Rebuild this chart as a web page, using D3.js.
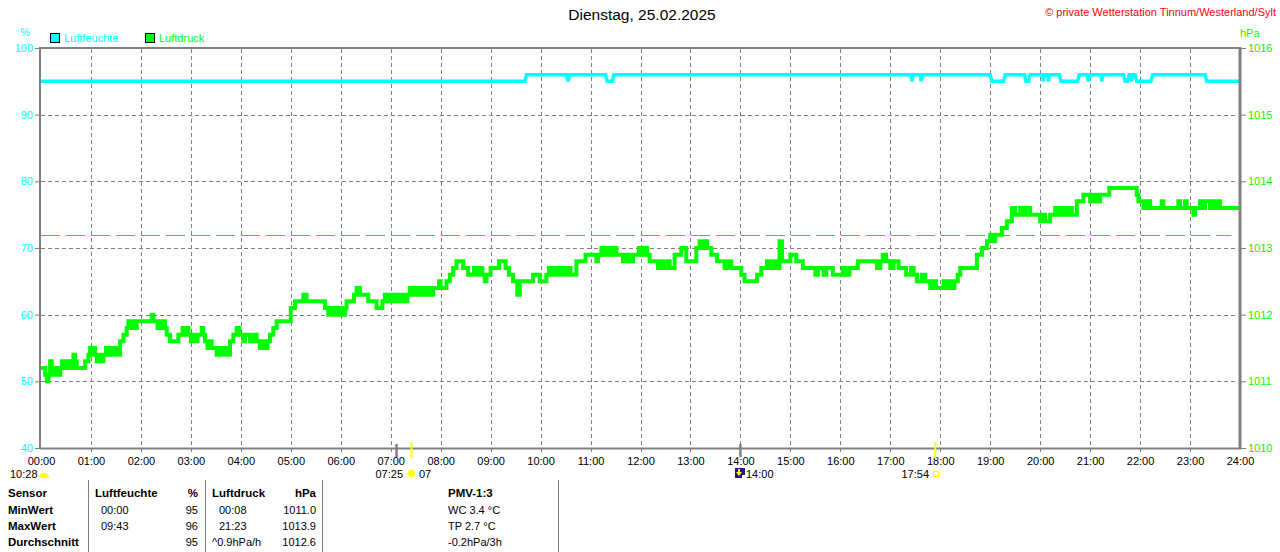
<!DOCTYPE html>
<html><head><meta charset="utf-8">
<script src="https://cdn.jsdelivr.net/npm/d3@7/dist/d3.min.js"></script>
<style>
html,body{margin:0;padding:0;background:#fff;}
svg{display:block;font-family:"Liberation Sans",Arial,sans-serif;}
</style></head>
<body><svg id="c" width="1280" height="552"></svg>
<script>
// ---- data ----
const titleText = "Dienstag, 25.02.2025";
const copyrightText = "© private Wetterstation Tinnum/Westerland/Sylt";
const hourTicks = d3.range(0, 25).map(h => h * 60);
const hourLabels = d3.range(0, 25).map(h => String(h).padStart(2, "0") + ":00");
const humTicks = [40, 50, 60, 70, 80, 90, 100];
const presTicks = [1010, 1011, 1012, 1013, 1014, 1015, 1016];
const refPressure = 1013.2;
// [minute of day, % ]
const humidityData = [[0,95],[581,95],[583,96],[631,96],[633,95],[635,96],[678,96],[680,95],[686,95],[688,96],
[1045,96],[1046,95],[1047,96],[1056,96],[1057,95],[1058,96],
[1140,96],[1142,95],[1156,95],[1158,96],[1181,96],[1183,95],[1186,95],[1188,96],
[1203,96],[1204,95],[1205,96],[1209,96],[1210,95],[1211,96],[1223,96],[1225,95],[1245,95],[1247,96],
[1256,96],[1258,95],[1260,96],[1273,96],[1274,95],[1275,96],[1300,96],[1302,95],[1305,95],[1307,96],
[1309,96],[1310,95],[1311,96],[1314,96],[1316,95],[1333,95],[1335,96],[1398,96],[1400,95],[1440,95]];
// [minute of day, hPa]
const pressureData = [[0,1011.2],[5,1011.1],[7,1011.0],[9,1011.1],[11,1011.3],[13,1011.2],[15,1011.1],[18,1011.2],[20,1011.1],
[23,1011.2],[25,1011.3],[27,1011.2],[30,1011.3],[32,1011.2],[35,1011.3],[37,1011.2],[39,1011.4],[41,1011.3],[43,1011.2],
[53,1011.3],[57,1011.4],[59,1011.5],[61,1011.4],[63,1011.5],[65,1011.4],[67,1011.3],[70,1011.4],[72,1011.3],[75,1011.4],
[78,1011.5],[80,1011.4],[84,1011.5],[86,1011.4],[89,1011.5],[91,1011.4],[95,1011.6],[99,1011.7],[103,1011.8],[105,1011.9],
[108,1011.8],[110,1011.9],[113,1011.8],[115,1011.9],[133,1012.0],[135,1011.9],[140,1011.8],[142,1011.9],[145,1011.8],
[147,1011.9],[149,1011.8],[151,1011.7],[155,1011.6],[165,1011.7],[170,1011.8],[173,1011.7],[175,1011.8],[177,1011.7],
[180,1011.6],[182,1011.7],[186,1011.6],[188,1011.7],[193,1011.8],[195,1011.7],[197,1011.6],[200,1011.5],[203,1011.6],
[205,1011.5],[211,1011.4],[214,1011.5],[217,1011.4],[221,1011.5],[224,1011.4],[227,1011.6],[231,1011.7],[235,1011.8],
[238,1011.7],[243,1011.6],[245,1011.7],[251,1011.6],[256,1011.7],[259,1011.6],[263,1011.5],[266,1011.6],[268,1011.5],
[272,1011.6],[275,1011.7],[279,1011.8],[283,1011.9],[300,1012.1],[305,1012.2],[315,1012.3],[319,1012.2],[341,1012.1],
[345,1012.0],[348,1012.1],[350,1012.0],[353,1012.1],[356,1012.0],[359,1012.1],[361,1012.0],[365,1012.1],[367,1012.2],
[376,1012.3],[379,1012.4],[383,1012.3],[393,1012.2],[401,1012.2],[403,1012.1],[410,1012.2],[413,1012.3],[416,1012.2],
[420,1012.3],[423,1012.2],[427,1012.3],[430,1012.2],[434,1012.3],[437,1012.2],[440,1012.3],[443,1012.4],[446,1012.3],
[450,1012.4],[453,1012.3],[457,1012.4],[460,1012.3],[464,1012.4],[467,1012.3],[471,1012.4],[478,1012.5],[480,1012.4],
[487,1012.5],[491,1012.6],[495,1012.7],[499,1012.8],[507,1012.7],[513,1012.6],[517,1012.6],[520,1012.7],[523,1012.6],
[527,1012.7],[530,1012.6],[533,1012.5],[535,1012.6],[540,1012.7],[550,1012.8],[558,1012.7],[562,1012.6],[567,1012.5],
[572,1012.3],[575,1012.5],[591,1012.6],[599,1012.5],[607,1012.6],[610,1012.7],[613,1012.6],[617,1012.7],[620,1012.6],
[624,1012.7],[627,1012.6],[632,1012.7],[636,1012.6],[643,1012.8],[654,1012.9],[667,1012.8],[669,1012.9],[673,1013.0],
[676,1012.9],[680,1013.0],[684,1012.9],[688,1013.0],[691,1012.9],[699,1012.8],[703,1012.9],[706,1012.8],[711,1012.9],
[718,1013.0],[721,1012.9],[725,1013.0],[728,1012.9],[731,1012.8],[741,1012.7],[744,1012.8],[747,1012.7],[752,1012.8],
[755,1012.7],[761,1012.9],[769,1013.0],[775,1012.8],[787,1013.0],[791,1013.1],[794,1013.0],[797,1013.1],[800,1013.0],
[805,1012.9],[812,1012.8],[821,1012.7],[826,1012.8],[829,1012.7],[841,1012.6],[845,1012.5],[860,1012.6],[865,1012.7],
[872,1012.8],[875,1012.7],[880,1012.8],[884,1012.7],[887,1013.1],[890,1012.8],[900,1012.9],[907,1012.8],[915,1012.7],
[930,1012.6],[933,1012.7],[940,1012.6],[943,1012.7],[951,1012.6],[963,1012.7],[966,1012.6],[971,1012.7],[981,1012.8],
[1004,1012.7],[1008,1012.8],[1011,1012.9],[1015,1012.8],[1020,1012.7],[1024,1012.8],[1030,1012.7],[1039,1012.6],
[1045,1012.7],[1048,1012.6],[1052,1012.5],[1058,1012.6],[1062,1012.5],[1068,1012.4],[1072,1012.5],[1075,1012.4],
[1084,1012.5],[1087,1012.4],[1091,1012.5],[1094,1012.4],[1097,1012.5],[1101,1012.6],[1104,1012.7],[1124,1012.9],
[1130,1013.0],[1136,1013.1],[1140,1013.2],[1142,1013.1],[1146,1013.2],[1154,1013.3],[1160,1013.4],[1166,1013.6],
[1170,1013.5],[1176,1013.6],[1180,1013.5],[1183,1013.6],[1188,1013.5],[1200,1013.4],[1203,1013.5],[1206,1013.4],
[1212,1013.5],[1218,1013.6],[1222,1013.5],[1226,1013.6],[1230,1013.5],[1234,1013.6],[1238,1013.5],[1244,1013.7],
[1252,1013.8],[1260,1013.7],[1264,1013.8],[1268,1013.7],[1272,1013.8],[1283,1013.9],[1316,1013.8],[1318,1013.7],
[1324,1013.6],[1328,1013.7],[1332,1013.6],[1346,1013.7],[1348,1013.6],[1366,1013.7],[1368,1013.6],[1374,1013.7],
[1376,1013.6],[1384,1013.5],[1386,1013.6],[1392,1013.7],[1396,1013.6],[1398,1013.7],[1404,1013.6],[1406,1013.7],
[1410,1013.6],[1414,1013.7],[1416,1013.6],[1440,1013.6]];
// astro events (minute of day)
const yellowMarks = [445, 1074];   // 07:25 sunrise, 17:54 sunset
const greyMarks = [427, 840];
const tableHeader = ["Sensor", "Luftfeuchte", "%", "Luftdruck", "hPa", "PMV-1:3"];
const rowNames = ["MinWert", "MaxWert", "Durchschnitt"];
const humTimes = ["00:00", "09:43", ""];
const humValues = ["95", "96", "95"];
const presTimes = ["00:08", "21:23", "^0.9hPa/h"];
const presValues = ["1011.0", "1013.9", "1012.6"];
const pmvValues = ["WC 3.4 °C", "TP 2.7 °C", "-0.2hPa/3h"];

// ---- drawing ----
const svg = d3.select("#c");
const GREY = "#808080", CYAN = "#00ffff", GREEN = "#00ff00";
const FONT = "Liberation Sans, Arial, sans-serif";
const x = d3.scaleLinear().domain([0, 1440]).range([41, 1240]);
const yH = d3.scaleLinear().domain([40, 100]).range([448, 48]);
const yP = d3.scaleLinear().domain([1010, 1016]).range([448, 48]);

svg.append("rect").attr("width", 1280).attr("height", 552).attr("fill", "#fff");

// grid
const grid = svg.append("g").attr("stroke", GREY).attr("stroke-width", 1).attr("stroke-dasharray", "4,3");
grid.selectAll(".v").data(hourTicks.slice(1, -1)).join("line")
  .attr("x1", d => Math.round(x(d)) + 0.5).attr("x2", d => Math.round(x(d)) + 0.5)
  .attr("y1", 49).attr("y2", 454);
grid.selectAll(".h").data(humTicks.slice(1, -1)).join("line")
  .attr("x1", 41).attr("x2", 1238)
  .attr("y1", d => Math.round(yH(d)) + 0.5).attr("y2", d => Math.round(yH(d)) + 0.5);

// reference pressure line
svg.append("line").attr("x1", x(0)).attr("x2", x(1430))
  .attr("y1", Math.round(yP(refPressure)) + 0.5).attr("y2", Math.round(yP(refPressure)) + 0.5)
  .attr("stroke", "#22dd22").attr("stroke-width", 1).attr("stroke-dasharray", "19,6");

// series
svg.append("path").datum(humidityData)
  .attr("d", d3.line().x(d => x(d[0])).y(d => yH(d[1])))
  .attr("fill", "none").attr("stroke", CYAN).attr("stroke-width", 3.5);
svg.append("path").datum(pressureData)
  .attr("d", d3.line().curve(d3.curveStepAfter).x(d => x(d[0])).y(d => yP(d[1])))
  .attr("fill", "none").attr("stroke", GREEN).attr("stroke-width", 4).attr("stroke-linejoin", "miter");

// frame
svg.append("line").attr("x1", 40).attr("x2", 1241).attr("y1", 48).attr("y2", 48).attr("stroke", GREY).attr("stroke-width", 2);
svg.append("line").attr("x1", 40).attr("x2", 1241).attr("y1", 448.5).attr("y2", 448.5).attr("stroke", GREY).attr("stroke-width", 2);
svg.append("line").attr("x1", 40).attr("x2", 40).attr("y1", 47).attr("y2", 449).attr("stroke", GREY).attr("stroke-width", 2);
svg.append("line").attr("x1", 1240).attr("x2", 1240).attr("y1", 47).attr("y2", 449).attr("stroke", GREY).attr("stroke-width", 3);

// left axis
const la = svg.append("g").attr("transform", "translate(40,0)")
  .call(d3.axisLeft(yH).tickValues(humTicks).tickFormat(d3.format("d")).tickSize(5).tickPadding(2));
la.select(".domain").remove();
la.selectAll("line").attr("stroke", GREY);
la.selectAll("text").attr("fill", CYAN).attr("font-size", 11).attr("font-family", FONT);
// right axis
const ra = svg.append("g").attr("transform", "translate(1241,0)")
  .call(d3.axisRight(yP).tickValues(presTicks).tickFormat(d3.format("d")).tickSize(5).tickPadding(2));
ra.select(".domain").remove();
ra.selectAll("line").attr("stroke", GREY);
ra.selectAll("text").attr("fill", GREEN).attr("font-size", 11).attr("font-family", FONT);
// bottom axis labels
const ba = svg.append("g").attr("transform", "translate(0,449)")
  .call(d3.axisBottom(x).tickValues(hourTicks).tickFormat((d, i) => hourLabels[i]).tickSize(0).tickPadding(8));
ba.select(".domain").remove();
ba.selectAll("text").attr("fill", "#000").attr("font-size", 11).attr("font-family", FONT);

// astro marks
svg.selectAll(".gm").data(greyMarks).join("line")
  .attr("x1", d => x(d)).attr("x2", d => x(d)).attr("y1", 444).attr("y2", 457)
  .attr("stroke", GREY).attr("stroke-width", 2.5);
svg.selectAll(".ym").data(yellowMarks).join("line")
  .attr("x1", d => x(d)).attr("x2", d => x(d)).attr("y1", 442).attr("y2", 458)
  .attr("stroke", "#ffff00").attr("stroke-width", 2);

const small = (t, xx, yy, anchor, col, bold, size) => svg.append("text").text(t)
  .attr("x", xx).attr("y", yy).attr("text-anchor", anchor || "start")
  .attr("fill", col || "#000").attr("font-size", size || 11).attr("font-weight", bold ? "bold" : "normal");

// astro row
small("10:28", 10, 478);
svg.append("path").attr("d", "M39,478 A5,5 0 0 1 49,478 Z").attr("fill", "#ffff00");
small("07:25", 403, 478, "end");
const sun = svg.append("g").attr("transform", `translate(${x(445)},473.5)`);
sun.selectAll("line").data(d3.range(8)).join("line")
  .attr("x1", d => 3.5 * Math.cos(d * Math.PI / 4)).attr("y1", d => 3.5 * Math.sin(d * Math.PI / 4))
  .attr("x2", d => 5.5 * Math.cos(d * Math.PI / 4)).attr("y2", d => 5.5 * Math.sin(d * Math.PI / 4))
  .attr("stroke", "#ffff66").attr("stroke-width", 1);
sun.append("circle").attr("r", 3.5).attr("fill", "#ffff00");
small("07", 419, 478);
svg.append("rect").attr("x", 735).attr("y", 468).attr("width", 10).attr("height", 10).attr("fill", "#1c1c80");
svg.append("path").attr("d", "M738,469 L740,469 L740,472 L742,472 L739,476 L736,472 L738,472 Z").attr("fill", "#ffff00");
svg.append("rect").attr("x", 742).attr("y", 475).attr("width", 3).attr("height", 3).attr("fill", "#ffffff");
small("14:00", 746, 478);
small("17:54", 929, 478, "end");
svg.append("rect").attr("x", 933.5).attr("y", 471.5).attr("width", 5).attr("height", 5).attr("fill", "none").attr("stroke", "#ffff00");

// titles & legend
small(titleText, 642, 20, "middle", "#000", false, 15.5);
small(copyrightText, 1276, 16, "end", "#ff0000", false, 11);
small("%", 30, 36, "end", CYAN, false, 11);
small("hPa", 1240, 37, "start", GREEN, false, 11);
svg.append("rect").attr("x", 50.5).attr("y", 33.5).attr("width", 9).attr("height", 9).attr("fill", CYAN).attr("stroke", "#000");
small("Luftfeuchte", 64, 42, "start", CYAN);
svg.append("rect").attr("x", 145.5).attr("y", 33.5).attr("width", 9).attr("height", 9).attr("fill", GREEN).attr("stroke", "#000");
small("Luftdruck", 159, 42, "start", GREEN);

// table
[88.5, 205.5, 322.5, 558.5].forEach(xx => svg.append("line").attr("x1", xx).attr("x2", xx).attr("y1", 480).attr("y2", 552).attr("stroke", GREY));
const rowY = [497, 514, 530, 546];
small(tableHeader[0], 8, rowY[0], "start", "#000", true, 11.5);
small(tableHeader[1], 95, rowY[0], "start", "#000", true, 11.5);
small(tableHeader[2], 198, rowY[0], "end", "#000", true, 11.5);
small(tableHeader[3], 212, rowY[0], "start", "#000", true, 11.5);
small(tableHeader[4], 316, rowY[0], "end", "#000", true, 11.5);
small(tableHeader[5], 448, rowY[0], "start", "#000", true, 11.5);
rowNames.forEach((r, i) => {
  const yy = rowY[i + 1];
  small(r, 8, yy, "start", "#000", true, 11.5);
  small(humTimes[i], 101, yy);
  small(humValues[i], 198, yy, "end");
  small(presTimes[i], i < 2 ? 219 : 212, yy);
  small(presValues[i], 316, yy, "end");
  small(pmvValues[i], 448, yy);
});
</script></body></html>
